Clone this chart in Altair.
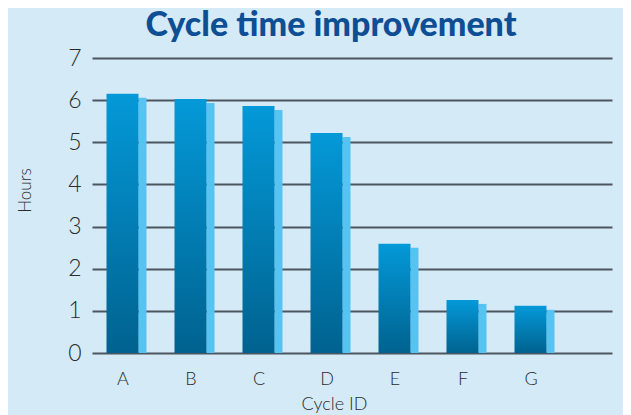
import altair as alt
import pandas as pd

categories = ["A", "B", "C", "D", "E", "F", "G"]
hours = [6.15, 6.03, 5.86, 5.22, 2.59, 1.26, 1.12]

df = pd.DataFrame({"idx": list(range(len(categories))), "cat": categories, "hours": hours})

label_expr = "[" + ",".join(f"'{c}'" for c in categories) + "][datum.value]"

xscale = alt.Scale(domain=[-0.375, 7.125], nice=False, zero=False)
yscale = alt.Scale(domain=[0, 7], nice=False)

x_enc = alt.X(
    "idx:Q",
    scale=xscale,
    axis=alt.Axis(
        values=list(range(len(categories))),
        labelExpr=label_expr,
        title="Cycle ID",
        grid=False,
        domain=False,
        ticks=False,
        labelFontSize=18,
        labelColor="#2b2b2b",
        labelPadding=17,
        labelFont="Lato",
        labelFontWeight=300,
        titleFont="Lato",
        titleFontSize=18,
        titleFontWeight=300,
        titleColor="#2b2b2b",
        titleX=242,
        titleY=51,
        titleBaseline="middle",
    ),
)
y_enc = alt.Y(
    "hours:Q",
    scale=yscale,
    axis=alt.Axis(
        values=list(range(0, 8)),
        title="Hours",
        grid=True,
        gridColor="#4d5660",
        gridWidth=1.8,
        domain=False,
        ticks=False,
        labelFontSize=23,
        labelColor="#2b2b2b",
        labelPadding=11,
        labelFont="Lato",
        labelFontWeight=300,
        titleFont="Lato",
        titleFontSize=17,
        titleFontWeight=300,
        titleColor="#2b2b2b",
        titleX=-67,
        titleY=132,
        titleBaseline="middle",
    ),
)

front_grad = alt.Gradient(
    gradient="linear",
    stops=[
        alt.GradientStop(color="#0499d8", offset=0),
        alt.GradientStop(color="#00628f", offset=1),
    ],
    x1=0, x2=0, y1=0, y2=1,
)

side = alt.Chart(df).mark_bar(size=8, xOffset=20, yOffset=4, y2Offset=0, color="#56c3f1").encode(
    x=x_enc, y=y_enc, y2=alt.datum(0)
)
front = alt.Chart(df).mark_bar(size=32, color=front_grad).encode(x=x_enc, y=y_enc)

chart = (
    alt.layer(side, front)
    .properties(
        width=520,
        height=295,
        autosize=alt.AutoSizeParams(type="none"),
        padding={"left": 84, "top": 50, "right": 11, "bottom": 70},
        background="#d4eaf7",
        title=alt.TitleParams(
            "Cycle time improvement",
            font="Lato",
            fontSize=34,
            fontWeight=900,
            color="#0d4e94",
            anchor="middle",
            dx=-21,
            offset=4,
        ),
    )
    .configure_view(stroke=None)
)

chart.save("out.html", embed_options={"renderer": "svg", "actions": False})
